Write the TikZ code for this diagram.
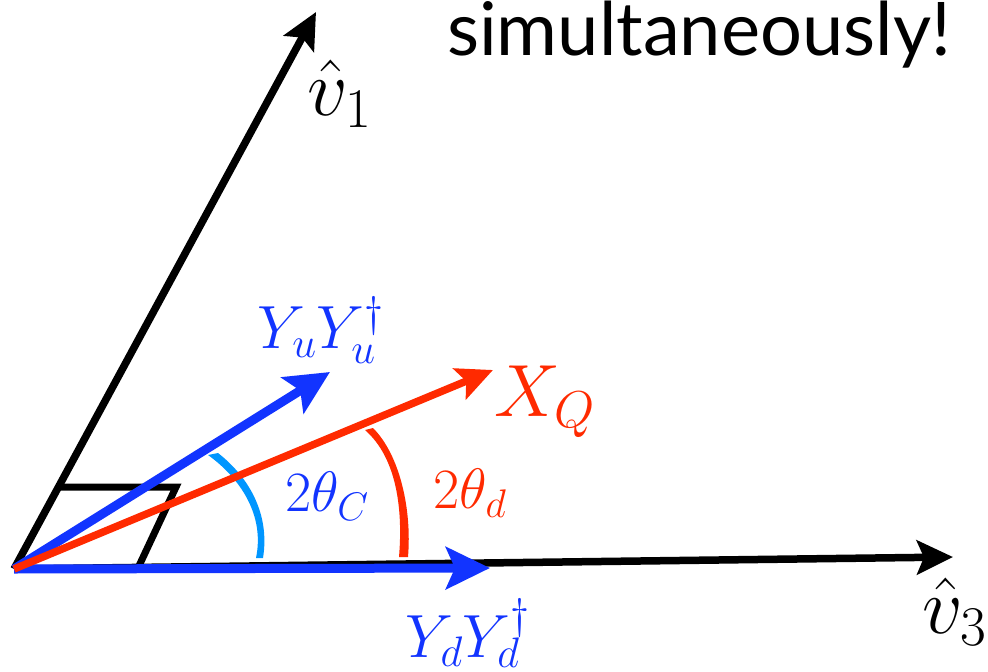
\RequirePackage{fix-cm}
\documentclass[tikz,border=0pt]{standalone}
\usepackage{fontspec}
\newfontfamily\titlefont{Lato}
\usepackage{tikz}
\usetikzlibrary{arrows.meta}

\definecolor{vecblue}{RGB}{18,52,255}
\definecolor{vecred}{RGB}{255,42,0}
\definecolor{arcblue}{RGB}{0,150,255}

\tikzset{
    axisvec/.style={line width=7.5pt, -{Stealth[length=36pt, width=34pt, inset=7pt]}},
    bluevec/.style={vecblue, line width=9pt, -{Stealth[length=44pt, width=42pt, inset=9pt]}},
    redvec/.style={vecred, line width=7.5pt, -{Stealth[length=36pt, width=33pt, inset=7pt]}},
    mathlab/.style={inner sep=0pt}
}

\begin{document}
\begin{tikzpicture}[x=1pt, y=-1pt]
    \useasboundingbox (0,0) rectangle (988,672);

    % Points
    \coordinate (O) at (14,569);
    \coordinate (v1) at (316,12);
    \coordinate (v3) at (953,557);
    \coordinate (yu) at (330,372);
    \coordinate (yd) at (490,568);
    \coordinate (xq) at (493,370);
    \coordinate (p1) at (58,487);
    \coordinate (p2) at (176,487);
    \coordinate (p3) at (138,568);

    % Axes
    \draw[axisvec] (O) -- (v1);
    \draw[axisvec] (O) -- (v3);

    % Parallelogram
    \draw[line width=7pt, line join=miter] (p1) -- (p2) -- (p3);

    % Angle 2 theta_C (light blue)
    \fill[arcblue] (218,453) .. controls (250,478) and (270,515) .. (263,558)
        -- (256,558) .. controls (265,515) and (240,478) .. (208,455) -- cycle;

    % Angle 2 theta_d (red)
    \fill[vecred] (373,428) .. controls (400,455) and (412,510) .. (408,557)
        -- (399,557) .. controls (403,510) and (397,458) .. (365,430) -- cycle;

    % Vectors
    \draw[bluevec] (O) -- (yd);
    \draw[bluevec] (O) -- (yu);
    \draw[redvec] (O) -- (xq);

    % Labels
    \node[mathlab, font=\fontsize{80}{90}\selectfont] (v1lab) at (340,94) {$\hat{v}_1$};
    \node[mathlab, font=\fontsize{80}{90}\selectfont] (v3lab) at (955,612) {$\hat{v}_3$};
    \node[mathlab, vecblue, font=\fontsize{61}{70}\selectfont] (yulab) at (321,330) {$Y_uY_u^\dagger$};
    \node[mathlab, vecblue, font=\fontsize{61}{70}\selectfont] (ydlab) at (468,633) {$Y_dY_d^\dagger$};
    \node[mathlab, vecred, font=\fontsize{74}{84}\selectfont] (xqlab) at (545,402) {$X_Q$};
    \node[mathlab, vecblue, font=\fontsize{57}{66}\selectfont] (tclab) at (327,496) {$2\theta_C$};
    \node[mathlab, vecred, font=\fontsize{57}{66}\selectfont] (tdlab) at (470,493) {$2\theta_d$};

    % Title
    \node[anchor=base, inner sep=0pt, font=\titlefont\fontsize{74}{84}\selectfont] (title) at (699,55) {simultaneously!};
\end{tikzpicture}
\end{document}
